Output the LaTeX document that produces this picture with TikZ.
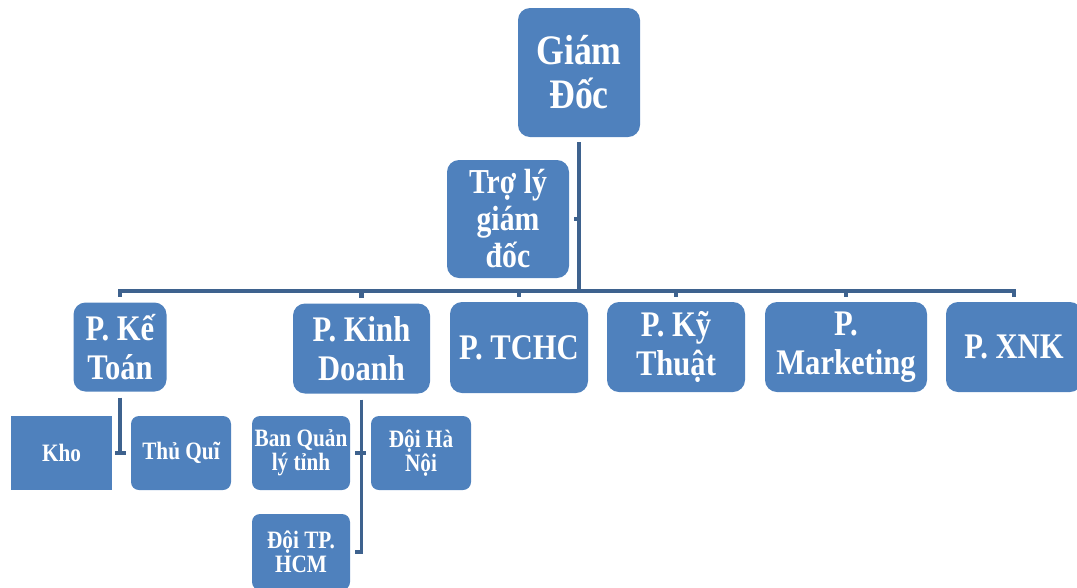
\documentclass[tikz,border=0pt]{standalone}
\usepackage{fontspec}
\setmainfont{Liberation Serif}[FakeStretch=0.85]
\usetikzlibrary{calc}
\definecolor{boxblue}{RGB}{79,129,189}
\definecolor{linkblue}{RGB}{62,98,142}
\tikzset{
  orgbox/.style={fill=boxblue, rounded corners=12pt, text=white, align=center, inner sep=0pt},
  bigtxt/.style={font=\fontsize{42}{44}\selectfont\bfseries},
  midtxt/.style={font=\fontsize{35}{37}\selectfont\bfseries},
  depttxt/.style={font=\fontsize{36}{39}\selectfont\bfseries},
  smalltxt/.style={font=\fontsize{25}{24}\selectfont\bfseries, rounded corners=8pt},
  conn/.style={draw=linkblue, line width=3.5pt},
  busline/.style={draw=linkblue, line width=4.5pt}
}
\begin{document}
\begin{tikzpicture}[x=1pt,y=-1pt]
\useasboundingbox (0,0) rectangle (1077,587);
\clip (0,0) rectangle (1077,587);
% top level
\node[orgbox,bigtxt,minimum width=122pt,minimum height=129pt] (gd) at (579,72.5) {Giám\\Đốc};
\node[orgbox,midtxt,minimum width=122pt,minimum height=118pt] (tl) at (508,219) {Trợ lý\\giám\\đốc};
% departments
\node[orgbox,depttxt,minimum width=93pt,minimum height=89pt] (kt) at (120,347) {P. Kế\\Toán};
\node[orgbox,depttxt,minimum width=137pt,minimum height=90pt] (kd) at (361.5,348.5) {P. Kinh\\Doanh};
\node[orgbox,depttxt,minimum width=138pt,minimum height=91pt] (tc) at (519,347.5) {P. TCHC};
\node[orgbox,depttxt,minimum width=138pt,minimum height=90pt] (kth) at (676,347) {P. Kỹ\\Thuật};
\node[orgbox,depttxt,minimum width=162pt,minimum height=90pt] (mk) at (846,347) {P.\\Marketing};
\node[orgbox,depttxt,minimum width=136pt,minimum height=90pt] (xnk) at (1014,347) {P. XNK};
% sub units
\node[orgbox,smalltxt,rounded corners=0pt,minimum width=101pt,minimum height=74pt] (kho) at (61.5,453) {Kho};
\node[orgbox,smalltxt,minimum width=100pt,minimum height=74pt] (tq) at (181,453) {Thủ Quĩ};
\node[orgbox,smalltxt,minimum width=98pt,minimum height=74pt] (bq) at (301,453) {Ban Quản\\lý tỉnh};
\node[orgbox,smalltxt,minimum width=100pt,minimum height=74pt] (hn) at (421,453) {Đội Hà\\Nội};
\node[orgbox,smalltxt,minimum width=98pt,minimum height=76pt] (hcm) at (301,552) {Đội TP.\\HCM};
% connectors
\coordinate (bus) at (579,291);
\draw[conn] ([yshift=-5pt]gd.south) -- (bus);
\draw[conn] (bus |- tl.east) -- ([xshift=5pt]tl.east);
\draw[busline] (bus) -| ([yshift=5pt]kt.north);
\draw[busline] (bus) -| ([yshift=5pt]kd.north);
\draw[busline] (bus) -| ([yshift=5pt]tc.north);
\draw[busline] (bus) -| ([yshift=5pt]kth.north);
\draw[busline] (bus) -| ([yshift=5pt]mk.north);
\draw[busline] (bus) -| ([yshift=5pt]xnk.north);
% ke toan branch
\coordinate (ktj) at (kt.south |- kho.east);
\draw[conn] ([yshift=-6pt]kt.south) -- (ktj);
\draw[conn] ([xshift=3pt]kho.east) -- ([xshift=-5pt]tq.west);
% kinh doanh branch
\coordinate (kdj) at (kd.south |- bq.east);
\coordinate (kdb) at (kd.south |- hcm.east);
\draw[conn] ([yshift=-6pt]kd.south) -- (kdb) -- ([xshift=5pt]hcm.east);
\draw[conn] ([xshift=5pt]bq.east) -- ([xshift=-5pt]hn.west);
\end{tikzpicture}
\end{document}
